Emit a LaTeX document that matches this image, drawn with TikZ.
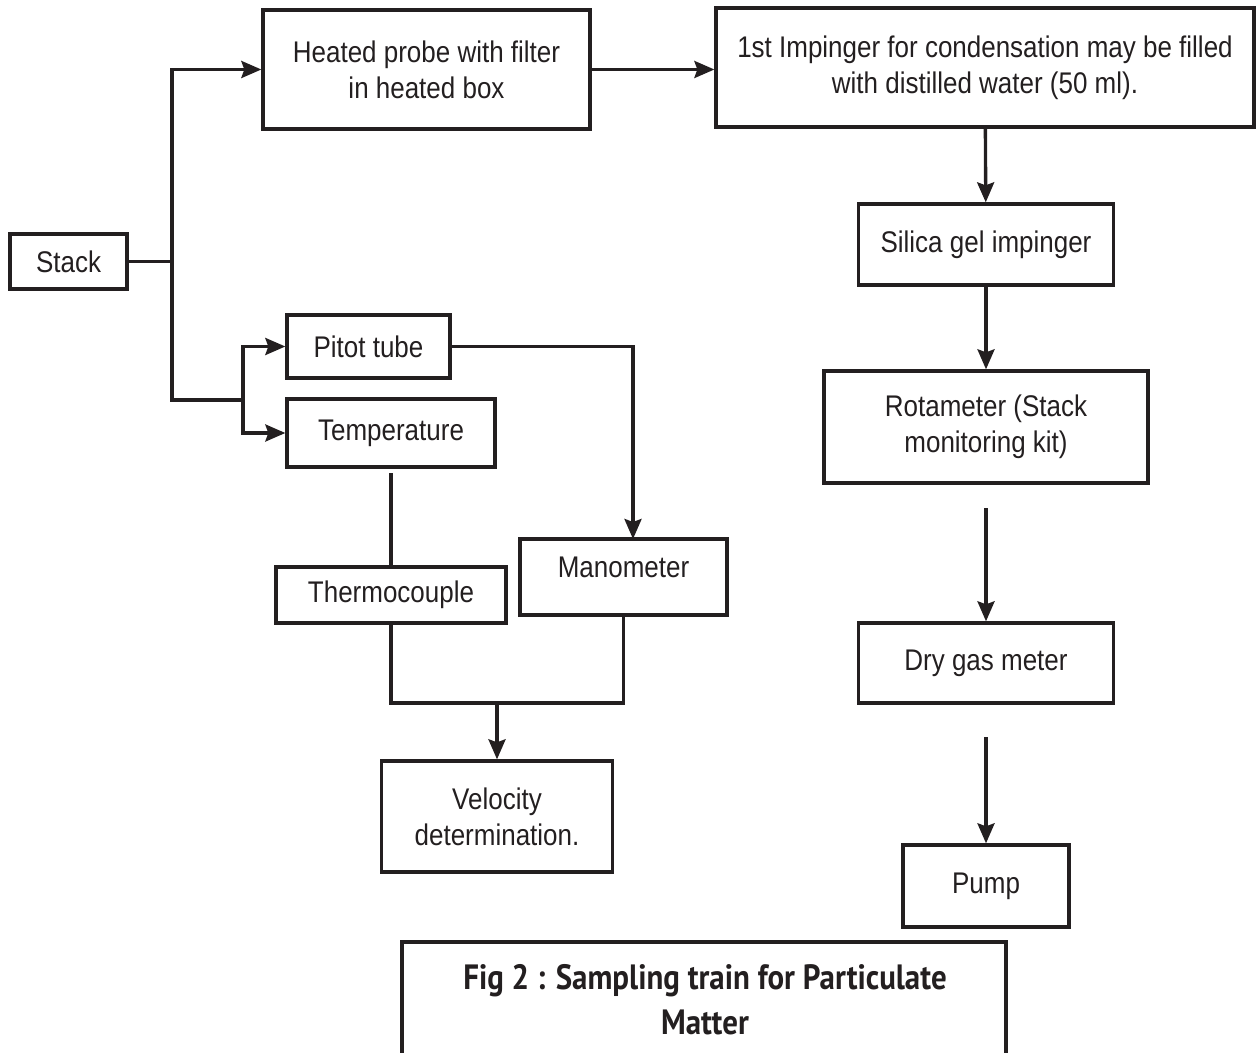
\documentclass[tikz,border=0pt]{standalone}
\usepackage{fontspec}
\setmainfont{Liberation Sans}[FakeStretch=0.87]
\newfontfamily\capfont{PT Sans}[FakeStretch=0.88]
\usetikzlibrary{positioning, arrows.meta, calc}
\definecolor{ink}{RGB}{35,31,32}

\begin{document}
\begin{tikzpicture}[x=0.02cm, y=-0.02cm, line width=1.9pt, draw=ink, text=ink,
	box/.style={draw, rectangle, inner sep=0pt, align=center, font=\fontsize{17}{20.5}\selectfont},
	arr/.style={-{Stealth[length=0.4cm, width=0.34cm, inset=0.06cm]}}]
	\useasboundingbox (0,0) rectangle (1256,1053);
	\node[box, minimum width=2.34cm, minimum height=1.10cm] (stack) at (68.5,261.5) {Stack};
	\node[box, minimum width=6.54cm, minimum height=2.38cm] (probe) at (426.5,69.5) {Heated probe with filter\\in heated box};
	\node[box, minimum width=10.76cm, minimum height=2.38cm] (imp) at (985,67.5) {1st Impinger for condensation may be filled\\with distilled water (50 ml).};
	\node[box, minimum width=5.10cm, minimum height=1.62cm] (silica) at (986,244.5) {Silica gel impinger};
	\node[box, minimum width=6.48cm, minimum height=2.24cm] (rota) at (986,427) {Rotameter (Stack\\monitoring kit)};
	\node[box, minimum width=5.10cm, minimum height=1.60cm] (dry) at (986,663) {Dry gas meter};
	\node[box, minimum width=3.32cm, minimum height=1.64cm] (pump) at (986,886) {Pump};
	\node[box, minimum width=3.26cm, minimum height=1.26cm] (pitot) at (368.5,346.5) {Pitot tube};
	\node[box, minimum width=4.16cm, minimum height=1.36cm] (temp) at (391,433) {Temperature};
	\node[box, minimum width=4.60cm, minimum height=1.12cm] (thermo) at (391,595) {Thermocouple};
	\node[box, minimum width=4.14cm, minimum height=1.52cm, text depth=0.38cm] (mano) at (623.5,577) {Manometer};
	\node[box, minimum width=4.62cm, minimum height=2.22cm] (velo) at (497,816.5) {Velocity\\determination.};
	\node[font=\capfont\bfseries\fontsize{20}{25.5}\selectfont, align=center] (cap) at (705,1000) {Fig 2 : Sampling train for Particulate\\Matter};
	\coordinate (split) at (172,261.5);
	\coordinate (fork) at (243,400);
	\coordinate (r1) at (986,508);
	\coordinate (d1) at (986,737);
	\coordinate (t1) at (391,473);
	\coordinate (m1) at (633,539);
	\coordinate (j) at (497,703);
	\draw (stack.east) -- (split);
	\draw[arr] (split) |- (probe.west);
	\draw (split) |- (fork);
	\draw[arr] (fork) |- (pitot.west);
	\draw[arr] (fork) |- (temp.west);
	\draw[arr] (probe.east) -- (probe.east -| imp.west);
	\draw
	(imp) edge[arr] (silica)
	(silica) edge[arr] (rota)
	(r1) edge[arr] (dry.north)
	(d1) edge[arr] (pump.north)
	(t1) edge (thermo.north)
	(j) edge[arr] (velo.north);
	\draw[arr] (pitot.east) -| (m1);
	\draw (thermo.south) |- (j) -| (mano.south);
	\draw (402,1053) |- (1006,942) -- (1006,1053);
\end{tikzpicture}
\end{document}
